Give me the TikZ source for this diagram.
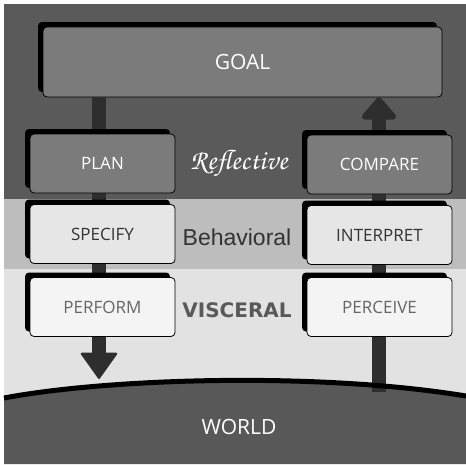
\documentclass[tikz,border=0pt]{standalone}
\usepackage[T1]{fontenc}
\usepackage{fontspec}
\setmainfont{Open Sans}
\newfontfamily\behavfont{Liberation Sans}
\newfontfamily\viscfont{DejaVu Sans}
\newcommand{\reflfont}{\fontencoding{T1}\fontfamily{pzc}\fontseries{mb}\fontshape{it}\selectfont}
\usetikzlibrary{arrows.meta,shadows}
\definecolor{reflbg}{HTML}{5A5A5A}
\definecolor{behavbg}{HTML}{BDBDBD}
\definecolor{viscbg}{HTML}{E2E2E2}
\definecolor{worldbg}{HTML}{585858}
\definecolor{reflbox}{HTML}{7B7B7B}
\definecolor{behavbox}{HTML}{E6E6E6}
\definecolor{viscbox}{HTML}{F4F4F4}
\definecolor{barcol}{HTML}{2E2E2E}

\begin{document}
\begin{tikzpicture}[x=1pt,y=-1pt]
\tikzset{
    level/.style={draw=black,line width=0.8pt,rounded corners=4pt,
        minimum width=145pt,minimum height=59pt,
        general shadow={fill=black,shadow xshift=-5pt,shadow yshift=5pt},
        font=\fontsize{17}{17}\selectfont},
    reflective/.style={level,fill=reflbox,text=white},
    behavioral/.style={level,fill=behavbox,text=black!80},
    visceral/.style={level,fill=viscbox,text=black!60},
    bar/.style={line width=14pt,draw=barcol}
}
\useasboundingbox (0,0) rectangle (466,464);
% bands
\fill[reflbg] (4,4) rectangle (466,199);
\fill[behavbg] (4,199) rectangle (466,269);
\fill[viscbg] (4,269) rectangle (466,400);
\fill[worldbg] (4,398) .. controls (110,378) and (320,372) .. (466,396)
  -- (466,464) -- (4,464) -- cycle;
% vertices
\node[reflective,minimum width=399pt,minimum height=70pt,
  font=\fontsize{21}{21}\selectfont] (goal) at (242.5,62) {GOAL};
\coordinate (downtip) at (99,379);
\coordinate (worldR) at (379,392);
% edges
\draw[bar,-{Triangle[length=27pt,width=38pt,round,line width=2pt]}]
  (goal.south -| downtip) -- (downtip);
\draw[bar,-{Triangle[length=24pt,width=40pt,round,line width=6pt]}]
  (worldR) -- (goal.south -| worldR);
\draw[line width=5pt] (4,398) .. controls (110,378) and (320,372) .. (466,396);
% boxes
\node[reflective] (plan) at (102.5,163.5) {PLAN};
\node[behavioral] (specify) at (102.5,234) {SPECIFY};
\node[visceral] (perform) at (102.5,307) {PERFORM};
\node[reflective] (compare) at (379.5,164.5) {COMPARE};
\node[behavioral] (interpret) at (379.5,235) {INTERPRET};
\node[visceral] (perceive) at (379.5,307) {PERCEIVE};
% levels
\node[text=white,font=\reflfont\fontsize{28}{28}\selectfont] (refl) at (239,164) {Reflective};
\node[text=black!80,font=\behavfont\fontsize{23}{23}\selectfont] (behav) at (237,237) {Behavioral};
\node[text=black!65,font=\viscfont\bfseries\fontsize{20}{20}\selectfont] (visc) at (237,310) {VISCERAL};
\node[text=white,font=\fontsize{21}{21}\selectfont] (world) at (239,427) {WORLD};
\end{tikzpicture}
\end{document}
